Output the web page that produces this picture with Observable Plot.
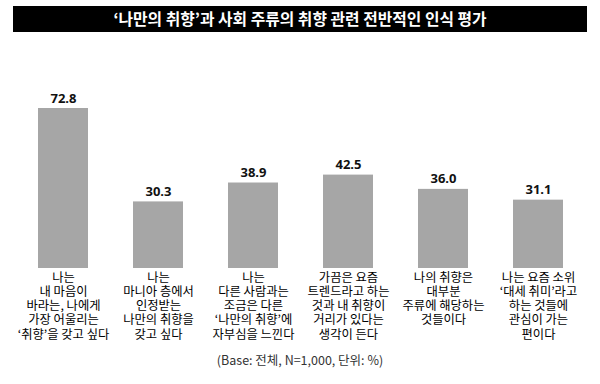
<!DOCTYPE html>
<html>
<head>
<meta charset="utf-8">
<script src="https://cdn.jsdelivr.net/npm/d3@7"></script>
<script src="https://cdn.jsdelivr.net/npm/@observablehq/plot@0.6"></script>
<style>
  html, body { margin: 0; padding: 0; background: #fff; width: 600px; height: 384px; overflow: hidden; }
  #title {
    position: absolute; left: 13px; top: 6px; width: 574px; height: 26px;
    background: #000; color: #fff; text-align: center;
    font: bold 15.8px "Noto Sans CJK KR", sans-serif; line-height: 26px;
  }
  #chart { position: absolute; left: 0; top: 32px; }
  #caption {
    position: absolute; left: 0; top: 350px; width: 600px; text-align: center;
    font: 12.5px "Noto Sans CJK KR", sans-serif; color: #333;
  }
</style>
</head>
<body>
<div id="title">‘나만의 취향’과 사회 주류의 취향 관련 전반적인 인식 평가</div>
<div id="chart"></div>
<div id="caption">(Base: 전체, N=1,000, 단위: %)</div>
<script>
const categories = [
  "나는\n내 마음이\n바라는, 나에게\n가장 어울리는\n‘취향’을 갖고 싶다",
  "나는\n마니아 층에서\n인정받는\n나만의 취향을\n갖고 싶다",
  "나는\n다른 사람과는\n조금은 다른\n‘나만의 취향’에\n자부심을 느낀다",
  "가끔은 요즘\n트렌드라고 하는\n것과 내 취향이\n거리가 있다는\n생각이 든다",
  "나의 취향은\n대부분\n주류에 해당하는\n것들이다",
  "나는 요즘 소위\n‘대세 취미’라고\n하는 것들에\n관심이 가는\n편이다"
];
const values = [72.8, 30.3, 38.9, 42.5, 36.0, 31.1];

const data = categories.map((c, i) => ({cat: c, value: values[i]}));

const chart = Plot.plot({
  width: 600,
  height: 318,
  marginLeft: 15.5,
  marginRight: 14.5,
  marginTop: 76,
  marginBottom: 82,
  x: {domain: categories, paddingInner: 0.4737, paddingOuter: 0.2368, axis: null},
  y: {domain: [0, 72.8], axis: null},
  style: {background: "transparent", overflow: "visible"},
  marks: [
    Plot.barY(data, {x: "cat", y: "value", fill: "#a6a6a6"}),
    Plot.text(data, {
      x: "cat", y: "value", text: d => d.value.toFixed(1),
      lineAnchor: "bottom", dy: -6,
      fontFamily: "'Open Sans', sans-serif", fontWeight: "bold", fontSize: 13, fill: "#111"
    }),
    Plot.text(data, {
      x: "cat", y: 0, text: "cat",
      lineAnchor: "top", dy: 3.5, lineHeight: 1.15,
      fontFamily: "'Noto Sans CJK KR', sans-serif", fontSize: 12.3, fill: "#000"
    })
  ]
});
document.getElementById("chart").appendChild(chart);
</script>
</body>
</html>
